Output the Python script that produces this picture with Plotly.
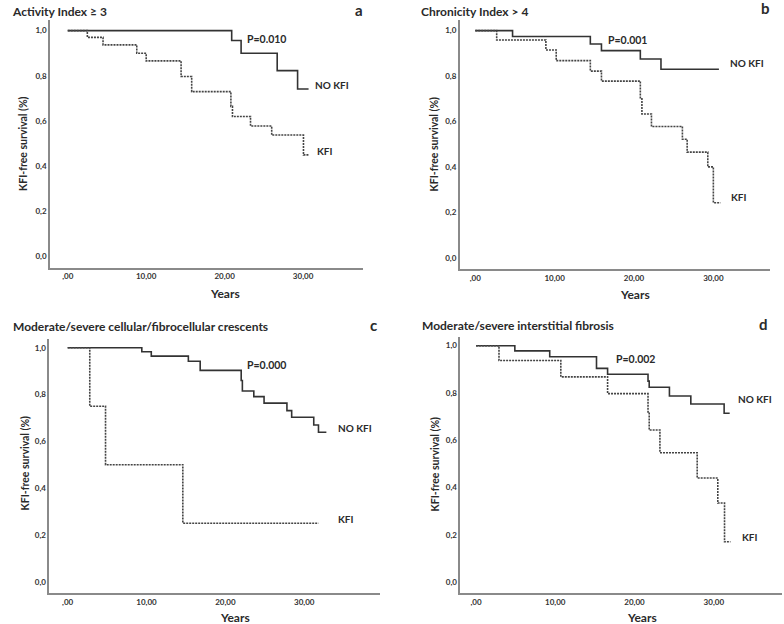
import plotly.graph_objects as go

# ---------------- data ----------------
panel_titles = ["Activity Index \u2265 3", "Chronicity Index > 4",
                "Moderate/severe cellular/fibrocellular crescents",
                "Moderate/severe interstitial fibrosis"]
panel_letters = ["a", "b", "c", "d"]
p_values = ["P=0.010", "P=0.001", "P=0.000", "P=0.002"]
group_names = ["NO KFI", "KFI"]

x_tickvals = [0, 10, 20, 30]
x_ticktext = [",00", "10,00", "20,00", "30,00"]
y_tickvals = [0, 0.2, 0.4, 0.6, 0.8, 1.0]
y_ticktext = ["0,0", "0,2", "0,4", "0,6", "0,8", "1,0"]

a_nokfi_t = [0, 20.9, 22.1, 26.7, 29.3, 30.7]
a_nokfi_s = [1.0, 0.956, 0.90, 0.823, 0.742, 0.742]
a_kfi_t = [0, 2.5, 4.5, 8.8, 10.0, 14.45, 15.8, 20.8, 21.0, 23.3, 26.0, 30.05, 30.8]
a_kfi_s = [1.0, 0.97, 0.937, 0.90, 0.866, 0.797, 0.73, 0.665, 0.62, 0.578, 0.538, 0.45, 0.45]

b_nokfi_t = [0, 4.7, 14.5, 15.9, 20.8, 23.4, 30.7]
b_nokfi_s = [1.0, 0.974, 0.941, 0.912, 0.875, 0.830, 0.830]
b_kfi_t = [0, 2.7, 8.9, 10.2, 14.5, 15.9, 20.8, 21.0, 22.2, 26.1, 26.7, 29.3, 30.0, 30.9]
b_kfi_s = [1.0, 0.959, 0.915, 0.868, 0.822, 0.778, 0.70, 0.633, 0.578, 0.522, 0.465, 0.40, 0.242, 0.242]

c_nokfi_t = [0, 9.4, 10.6, 15.3, 16.8, 22.0, 22.15, 23.6, 24.9, 27.8, 28.4, 31.2, 31.8, 32.8]
c_nokfi_s = [1.0, 0.983, 0.964, 0.942, 0.903, 0.86, 0.815, 0.791, 0.763, 0.731, 0.703, 0.67, 0.639, 0.639]
c_kfi_t = [0, 2.8, 4.8, 14.6, 31.8]
c_kfi_s = [1.0, 0.75, 0.50, 0.25, 0.25]

d_nokfi_t = [0, 4.9, 9.3, 15.2, 16.6, 21.7, 21.85, 24.4, 27.1, 31.3, 32.0]
d_nokfi_s = [1.0, 0.978, 0.953, 0.904, 0.879, 0.85, 0.824, 0.787, 0.753, 0.714, 0.714]
d_kfi_t = [0, 2.9, 10.7, 16.6, 21.7, 21.85, 23.2, 27.9, 30.5, 31.35, 32.1]
d_kfi_s = [1.0, 0.937, 0.868, 0.797, 0.72, 0.643, 0.547, 0.44, 0.334, 0.17, 0.17]

curves = [
    (a_nokfi_t, a_nokfi_s, a_kfi_t, a_kfi_s),
    (b_nokfi_t, b_nokfi_s, b_kfi_t, b_kfi_s),
    (c_nokfi_t, c_nokfi_s, c_kfi_t, c_kfi_s),
    (d_nokfi_t, d_nokfi_s, d_kfi_t, d_kfi_s),
]

# ---------------- layout geometry (pixels) ----------------
W, H = 784, 624
boxes = [
    dict(L=50, R=362.7, T=20, B=267.7, xr=[-2.26, 37.6], yr=[-0.049, 1.047]),
    dict(L=459.7, R=769.7, T=20, B=269.3, xr=[-1.96, 37.1], yr=[-0.051, 1.047]),
    dict(L=49.3, R=380, T=339.3, B=593.3, xr=[-2.33, 39.6], yr=[-0.0496, 1.036]),
    dict(L=460.3, R=782, T=336.7, B=593.3, xr=[-1.98, 38.6], yr=[-0.048, 1.038]),
]
title_pos = [(11, 11), (420, 11), (12, 326.5), (421, 325)]
letter_pos = [(359, 10), (765, 8.5), (373, 325), (763, 323.5)]
p_pos = [(245.5, 38.5), (607, 40), (245.5, 365), (614.5, 359.5)]
nokfi_pos = [(314, 85), (728.5, 63.5), (336.5, 427.5), (737, 399)]
kfi_pos = [(315.5, 150.5), (730, 196.5), (336.5, 518.5), (741, 536.5)]
ylab_pos = [(23.5, 143.5), (433.5, 144), (24, 463.5), (434.5, 464)]
xlab_pos = [(225, 293.5), (635, 294.5), (235, 617.5), (642, 617.5)]


def px(x, y):
    return x / W, 1 - y / H


FONT = "Lato"
DARK = "#2a2a2a"
fig = go.Figure()
layout = dict(width=W, height=H, margin=dict(l=0, r=0, t=0, b=0),
              paper_bgcolor="white", plot_bgcolor="white", showlegend=False,
              font=dict(family=FONT, color=DARK))
annotations = []


def ann(text, pos, size, xanchor="left", angle=0):
    x, y = px(*pos)
    annotations.append(dict(text="<b>" + text + "</b>", x=x, y=y, xref="paper", yref="paper",
                            xanchor=xanchor, yanchor="middle", showarrow=False, textangle=angle,
                            borderpad=0, font=dict(family=FONT, size=size, color=DARK)))


for i, (nt, ns, kt, ks) in enumerate(curves):
    n = "" if i == 0 else str(i + 1)
    xa, ya = "x" + n, "y" + n
    fig.add_trace(go.Scatter(x=nt, y=ns, mode="lines", line_shape="hv", name=group_names[0],
                             line=dict(color="#333333", width=1.6), xaxis=xa, yaxis=ya))
    fig.add_trace(go.Scatter(x=kt, y=ks, mode="lines", line_shape="hv", name=group_names[1],
                             line=dict(color="#444444", width=1.6, dash="2px,1px"),
                             xaxis=xa, yaxis=ya))
    b = boxes[i]
    axstyle = dict(showgrid=False, zeroline=False, showline=True, linecolor="#8a8a8a",
                   linewidth=1.5, ticks="", automargin=False,
                   tickfont=dict(family=FONT, size=8, color="#333", weight="bold"))
    layout["xaxis" + n] = dict(domain=[b["L"] / W, b["R"] / W], range=b["xr"], anchor=ya,
                               tickvals=x_tickvals, ticktext=x_ticktext, **axstyle)
    layout["yaxis" + n] = dict(domain=[1 - b["B"] / H, 1 - b["T"] / H], range=b["yr"], anchor=xa,
                               tickvals=y_tickvals, ticktext=y_ticktext, **axstyle)

    ann(panel_titles[i], title_pos[i], 12)
    ann(panel_letters[i], letter_pos[i], 15, xanchor="center")
    ann(p_values[i], p_pos[i], 10.5)
    ann(group_names[0], nokfi_pos[i], 10)
    ann(group_names[1], kfi_pos[i], 10)
    ann("KFI-free survival (%)", ylab_pos[i], 10.5, xanchor="center", angle=-90)
    ann("Years", xlab_pos[i], 12, xanchor="center")

layout["annotations"] = annotations
fig.update_layout(**layout)
fig.write_html("out.html", config={"displayModeBar": False},
               post_script="document.body.style.margin='0';document.body.style.overflow='hidden';")
